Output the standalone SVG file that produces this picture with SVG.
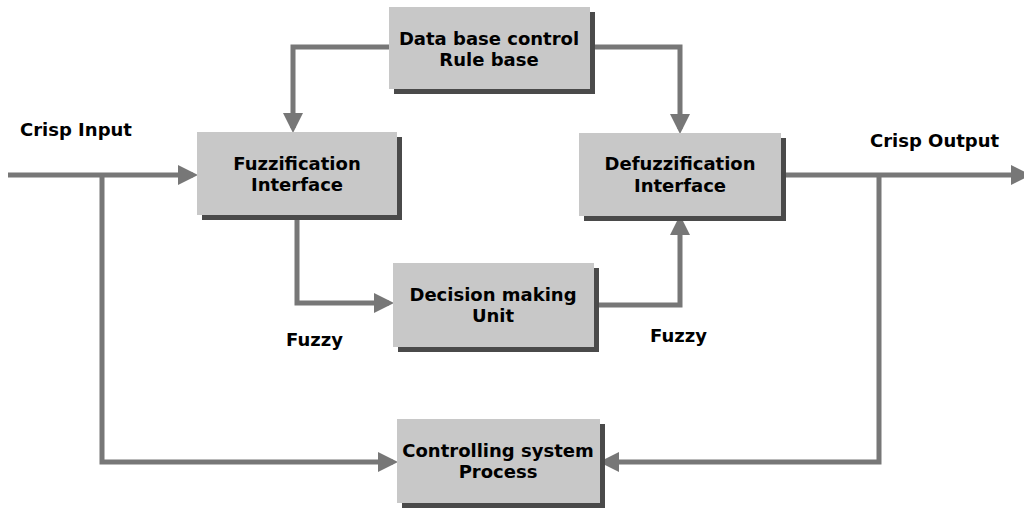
<svg xmlns="http://www.w3.org/2000/svg" width="1024" height="509" viewBox="0 0 1024 509">
<defs>
<style>
.box{fill:#c8c8c8}
.sh{fill:#4a4a4a}
.t{font-family:"DejaVu Sans",Verdana,sans-serif;font-weight:bold;font-size:18px;fill:#000;text-anchor:middle}
.l{font-family:"DejaVu Sans",Verdana,sans-serif;font-weight:bold;font-size:18px;fill:#000}
.c{fill:none;stroke:#777;stroke-width:5}
</style>
<marker id="a" markerWidth="4" markerHeight="4" refX="3" refY="2" orient="auto" markerUnits="strokeWidth">
<path d="M0,0 L4,2 L0,4 z" fill="#777"/>
</marker>
</defs>
<g id="connectors">
<path class="c" d="M8,175 H193" marker-end="url(#a)"/>
<path class="c" d="M102,175 V462 H393" marker-end="url(#a)"/>
<path class="c" d="M389,47 H293 V128" marker-end="url(#a)"/>
<path class="c" d="M590,47 H680 V129" marker-end="url(#a)"/>
<path class="c" d="M297,215 V303 H389" marker-end="url(#a)"/>
<path class="c" d="M594,305 H680 V220" marker-end="url(#a)"/>
<path class="c" d="M781,175 H1026" marker-end="url(#a)"/>
<path class="c" d="M879,175 V462 H604" marker-end="url(#a)"/>
</g>
<g id="db">
<rect class="sh" x="394" y="12" width="201" height="82"/>
<rect class="box" x="389" y="7" width="201" height="82"/>
<text class="t" x="489" y="45">Data base control</text>
<text class="t" x="489" y="66">Rule base</text>
</g>
<g id="fuzz">
<rect class="sh" x="202" y="137" width="200" height="83"/>
<rect class="box" x="197" y="132" width="200" height="83"/>
<text class="t" x="297" y="170">Fuzzification</text>
<text class="t" x="297" y="191">Interface</text>
</g>
<g id="defuzz">
<rect class="sh" x="584" y="138" width="202" height="83"/>
<rect class="box" x="579" y="133" width="202" height="83"/>
<text class="t" x="680" y="170">Defuzzification</text>
<text class="t" x="680" y="192">Interface</text>
</g>
<g id="decision">
<rect class="sh" x="398" y="268" width="201" height="84"/>
<rect class="box" x="393" y="263" width="201" height="84"/>
<text class="t" x="493" y="301">Decision making</text>
<text class="t" x="493" y="322">Unit</text>
</g>
<g id="process">
<rect class="sh" x="402" y="424" width="203" height="84"/>
<rect class="box" x="397" y="419" width="203" height="84"/>
<text class="t" x="498" y="457">Controlling system</text>
<text class="t" x="498" y="478">Process</text>
</g>
<g id="labels">
<text class="l" x="20" y="136">Crisp Input</text>
<text class="l" x="870" y="147">Crisp Output</text>
<text class="l" x="286" y="346">Fuzzy</text>
<text class="l" x="650" y="342">Fuzzy</text>
</g>
</svg>
